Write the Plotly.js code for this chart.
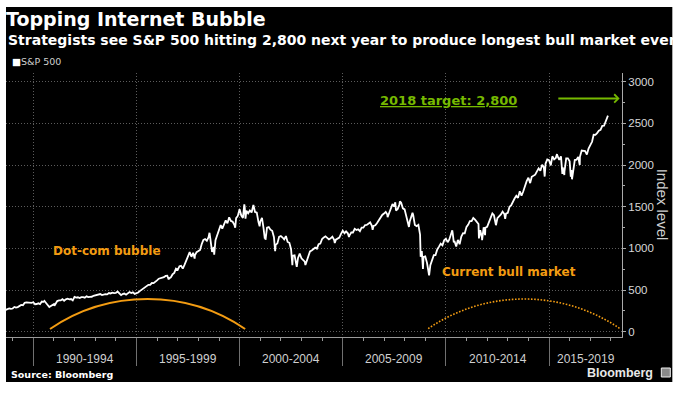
<!DOCTYPE html>
<html><head><meta charset="utf-8">
<script src="https://cdn.plot.ly/plotly-3.0.1.min.js"></script>
<style>html,body{margin:0;padding:0;background:#fff;}#chart{width:678px;height:397px;}</style>
</head><body><div id="chart"></div>
<script>
// ---- DATA ----
// S&P 500 month-end levels, starting Aug 1988, ending Oct 2017
const spxStartYear = 1988;
const spxStartMonth = 8;
const spxMonthly = [
  262, 272, 279, 274, 278,
  297, 289, 295, 310, 321, 318, 346, 351, 349, 340, 346, 353,
  329, 332, 340, 331, 361, 358, 356, 323, 306, 304, 322, 330,
  344, 367, 375, 375, 390, 371, 388, 395, 388, 392, 375, 417,
  409, 413, 404, 415, 415, 408, 424, 414, 418, 419, 431, 436,
  439, 443, 452, 440, 450, 451, 448, 464, 459, 468, 462, 466,
  482, 467, 446, 451, 457, 444, 458, 475, 463, 472, 454, 459,
  470, 487, 501, 515, 533, 545, 562, 562, 584, 582, 605, 616,
  636, 640, 646, 654, 669, 671, 640, 652, 687, 705, 757, 741,
  786, 791, 757, 801, 848, 885, 954, 899, 947, 915, 955, 970,
  980, 1049, 1102, 1112, 1091, 1134, 1121, 957, 1017, 1099, 1164, 1229,
  1280, 1238, 1286, 1335, 1302, 1373, 1329, 1320, 1283, 1363, 1389, 1469,
  1394, 1366, 1499, 1452, 1421, 1455, 1431, 1518, 1437, 1429, 1315, 1320,
  1366, 1240, 1160, 1249, 1256, 1224, 1211, 1134, 1041, 1060, 1139, 1148,
  1130, 1107, 1147, 1077, 1067, 990, 912, 916, 815, 886, 936, 880,
  856, 841, 848, 917, 964, 975, 990, 1008, 996, 1051, 1058, 1112,
  1131, 1145, 1126, 1107, 1121, 1141, 1102, 1104, 1115, 1130, 1174, 1212,
  1181, 1204, 1181, 1157, 1192, 1191, 1234, 1220, 1229, 1207, 1249, 1248,
  1280, 1281, 1295, 1311, 1270, 1270, 1277, 1304, 1336, 1378, 1401, 1418,
  1438, 1407, 1421, 1482, 1531, 1503, 1455, 1474, 1527, 1549, 1481, 1468,
  1379, 1331, 1323, 1386, 1400, 1280, 1267, 1283, 1165, 969, 896, 903,
  826, 735, 798, 873, 919, 919, 987, 1021, 1057, 1036, 1096, 1115,
  1074, 1104, 1169, 1187, 1089, 1031, 1102, 1049, 1141, 1183, 1181, 1258,
  1286, 1327, 1326, 1364, 1345, 1321, 1292, 1219, 1131, 1253, 1247, 1258,
  1312, 1366, 1408, 1398, 1310, 1362, 1379, 1407, 1441, 1412, 1416, 1426,
  1498, 1515, 1569, 1598, 1631, 1606, 1686, 1633, 1682, 1757, 1806, 1848,
  1783, 1859, 1872, 1884, 1924, 1960, 1931, 2003, 1972, 2018, 2068, 2059,
  1995, 2105, 2068, 2086, 2107, 2063, 2104, 1972, 1920, 2079, 2080, 2044,
  1940, 1932, 2060, 2065, 2097, 2099, 2174, 2171, 2168, 2126, 2199, 2239,
  2279, 2364, 2363, 2384, 2412, 2423, 2470, 2472, 2519, 2575
];
// Intra-month spikes (highs / lows) visible in the daily line
const spxSpikeDates = [
  '1990-07-16','1990-10-11','1991-01-09','1994-04-04','1996-07-24','1997-10-27',
  '1998-07-17','1998-10-08','1999-10-15','2000-03-24','2000-04-14','2000-09-01',
  '2000-12-20','2001-03-22','2001-04-04','2001-09-21','2002-07-23','2002-10-09',
  '2003-03-11','2004-08-12','2005-04-20','2006-06-13','2007-03-05','2007-07-19',
  '2007-10-09','2008-03-17','2008-05-19','2008-10-10','2008-11-20','2009-03-09',
  '2010-04-23','2010-05-20','2010-07-02','2011-08-08','2011-10-03','2011-11-25',
  '2012-04-02','2012-06-04','2012-11-15','2014-10-15','2015-05-21','2015-08-24',
  '2015-09-28','2016-01-20','2016-02-11','2016-06-27','2017-11-08'
];
const spxSpikeValues = [
  369, 295, 311, 438, 626, 877,
  1187, 923, 1247, 1527, 1357, 1520,
  1264, 1117, 1103, 966, 797, 777,
  800, 1064, 1138, 1223, 1374, 1553,
  1565, 1257, 1426, 899, 752, 677,
  1217, 1071, 1022, 1119, 1099, 1159,
  1419, 1278, 1353, 1862, 2131, 1893,
  1881, 1859, 1829, 2001, 2594
];
const seriesName = 'S&amp;P 500';
const xRange = ['1988-09-04', '2018-07-15'];
const periodStarts = [1990, 1995, 2000, 2005, 2010, 2015];
const periodLabels = ['1990-1994', '1995-1999', '2000-2004', '2005-2009', '2010-2014', '2015-2019'];
const yRange = [-64, 3105];
const yTickVals = [0, 500, 1000, 1500, 2000, 2500, 3000];
const yTickText = ['0', '500', '1000', '1500', '2000', '2500', '3000'];
const targetValue = 2800;
const targetText = '2018 target: 2,800';
const targetArrowFrom = '2015-05-18';
const targetArrowTo = '2018-06-03';
const arcLabels = ['Dot-com bubble', 'Current bull market'];
const arcLabelX = ['1993-07-27', '2013-01-26'];
const arcLabelY = [972, 716];
const arcStarts = ['1990-10-23', '2009-02-20'];
const arcEnds = ['2000-04-08', '2018-06-10'];
const arcBase = [32, 36];
const arcPeak = [392, 392];
const arcDash = ['solid', '1.6px,1.6px'];

// ---- BUILD ----
const pts = [];
spxMonthly.forEach((v, i) => {
  const d = new Date(Date.UTC(spxStartYear, spxStartMonth - 1 + i + 1, 0));
  pts.push([d.toISOString().slice(0, 10), v]);
});
spxSpikeDates.forEach((d, i) => pts.push([d, spxSpikeValues[i]]));
pts.sort((a, b) => (a[0] < b[0] ? -1 : a[0] > b[0] ? 1 : 0));

const ORANGE = '#f39c12';
const GREEN = '#76b900';
const GRID = '#5c5c5c';
const GRIDDASH = '1px,2px';

// plot-area pixel frame -> paper coordinates
const L = 6, R = 621.7, T = 73, B = 337;
const px = x => (x - L) / (R - L);
const py = y => (B - y) / (B - T);
const ms = s => Date.parse(s);
const iso = t => new Date(t).toISOString().slice(0, 10);

const annotations = [];
const shapes = [];

// black card with white border
shapes.push({type: 'rect', xref: 'paper', yref: 'paper', x0: px(6), x1: px(672), y0: py(382), y1: py(7),
  fillcolor: '#000', line: {width: 0}, layer: 'below'});

// arcs
arcStarts.forEach((s, i) => {
  const a = ms(s), b = ms(arcEnds[i]);
  const c1 = iso(a + 0.3 * (b - a)), c2 = iso(b - 0.3 * (b - a));
  const ch = arcBase[i] + (4 / 3) * (arcPeak[i] - arcBase[i]);
  shapes.push({type: 'path', xref: 'x', yref: 'y',
    path: `M ${s},${arcBase[i]} C ${c1},${ch} ${c2},${ch} ${arcEnds[i]},${arcBase[i]}`,
    line: {color: ORANGE, width: i === 0 ? 2 : 1.6, dash: arcDash[i]}, layer: 'above'});
  annotations.push({x: arcLabelX[i], y: arcLabelY[i], xref: 'x', yref: 'y', text: '<b>' + arcLabels[i] + '</b>',
    showarrow: false, xanchor: 'center', yanchor: 'middle',
    font: {family: 'DejaVu Sans', size: 12, color: ORANGE}});
});

// target arrow + label
annotations.push({x: targetArrowTo, y: targetValue, ax: targetArrowFrom, ay: targetValue, xref: 'x', yref: 'y',
  axref: 'x', ayref: 'y', text: '', showarrow: true, arrowhead: 4, arrowsize: 0.8, arrowwidth: 2,
  arrowcolor: GREEN, standoff: 0, startstandoff: 0});
annotations.push({x: '2010-02-20', y: 2778, xref: 'x', yref: 'y', text: '<b><u>' + targetText + '</u></b>',
  showarrow: false, xanchor: 'center', yanchor: 'middle', font: {family: 'DejaVu Sans', size: 13, color: GREEN}});

// x period labels centred on the visible part of each period
const r0 = ms(xRange[0]), r1 = ms(xRange[1]);
periodStarts.forEach((y, i) => {
  const a = Math.max(Date.UTC(y, 0, 1), r0), b = Math.min(Date.UTC(y + 5, 0, 1), r1);
  annotations.push({x: iso((a + b) / 2), y: py(359), xref: 'x', yref: 'paper', text: periodLabels[i],
    showarrow: false, xanchor: 'center', yanchor: 'middle',
    font: {family: 'Liberation Sans', size: 12, color: '#d0d0d0'}});
});

// subtitle, legend, axis title, source, logo
annotations.push({x: px(6), y: py(40), xref: 'paper', yref: 'paper', xanchor: 'left', yanchor: 'middle', showarrow: false,
  text: '<b>Strategists see S&amp;P 500 hitting 2,800 next year to produce longest bull market ever</b>',
  font: {family: 'DejaVu Sans', size: 14, color: '#fff'}});
annotations.push({x: px(10), y: py(62), xref: 'paper', yref: 'paper', xanchor: 'left', yanchor: 'middle', showarrow: false,
  text: '<span style="color:#fff">■</span>' + seriesName,
  font: {family: 'DejaVu Sans', size: 9.5, color: '#cfcfcf'}});
annotations.push({x: px(663), y: py(205), xref: 'paper', yref: 'paper', xanchor: 'center', yanchor: 'middle', showarrow: false,
  text: 'Index level', textangle: 90, font: {family: 'Liberation Sans', size: 15, color: '#d0d0d0'}});
annotations.push({x: px(9), y: py(374), xref: 'paper', yref: 'paper', xanchor: 'left', yanchor: 'middle', showarrow: false,
  text: '<b>Source: Bloomberg</b>', font: {family: 'DejaVu Sans', size: 9.5, color: '#fff'}});
annotations.push({x: px(655), y: py(373), xref: 'paper', yref: 'paper', xanchor: 'right', yanchor: 'middle', showarrow: false,
  text: '<b>Bloomberg</b>', font: {family: 'Liberation Sans', size: 12.5, color: '#e8e8e8'}});
shapes.push({type: 'rect', xref: 'paper', yref: 'paper', x0: px(661), x1: px(670), y0: py(377), y1: py(368),
  fillcolor: '#8a8a8a', line: {color: '#eee', width: 1}});

const trace = {
  type: 'scatter', mode: 'lines', name: 'S&P 500',
  x: pts.map(p => p[0]), y: pts.map(p => p[1]),
  line: {color: '#ffffff', width: 1.8}, hoverinfo: 'skip'
};

const layout = {
  width: 678, height: 397,
  margin: {l: L, r: 678 - R, t: T, b: 397 - B, pad: 0},
  paper_bgcolor: '#ffffff', plot_bgcolor: '#000000',
  showlegend: false,
  title: {text: '<b>Topping Internet Bubble</b>', xref: 'container', yref: 'container',
    x: 6 / 678, xanchor: 'left', y: 1 - 19 / 397, yanchor: 'middle',
    font: {family: 'DejaVu Sans', size: 19, color: '#ffffff'}},
  xaxis: {type: 'date', range: xRange, automargin: false,
    tickmode: 'array', tickvals: periodStarts.map(y => y + '-01-01'), showticklabels: false,
    ticks: 'outside', ticklen: 28, tickwidth: 1, tickcolor: '#707070',
    showline: true, linecolor: '#9a9a9a', linewidth: 1,
    showgrid: true, gridcolor: GRID, griddash: GRIDDASH, gridwidth: 1, zeroline: false,
    minor: {dtick: 'M12', tick0: '1989-01-01', ticks: 'outside', ticklen: 3, tickcolor: '#9a9a9a', showgrid: false}},
  yaxis: {side: 'right', range: yRange, automargin: false,
    tickmode: 'array', tickvals: yTickVals, ticktext: yTickText,
    ticks: 'outside', ticklen: 3, tickcolor: '#aaaaaa',
    tickfont: {family: 'Liberation Sans', size: 11.5, color: '#d8d8d8'},
    showline: true, linecolor: '#aaaaaa', linewidth: 1,
    showgrid: true, gridcolor: GRID, griddash: GRIDDASH, gridwidth: 1, zeroline: false,
    minor: {dtick: 250, tick0: 0, ticks: 'outside', ticklen: 2, tickcolor: '#aaaaaa', showgrid: false}},
  shapes: shapes,
  annotations: annotations
};

Plotly.newPlot('chart', [trace], layout, {staticPlot: true, displayModeBar: false});
</script>
</body></html>
